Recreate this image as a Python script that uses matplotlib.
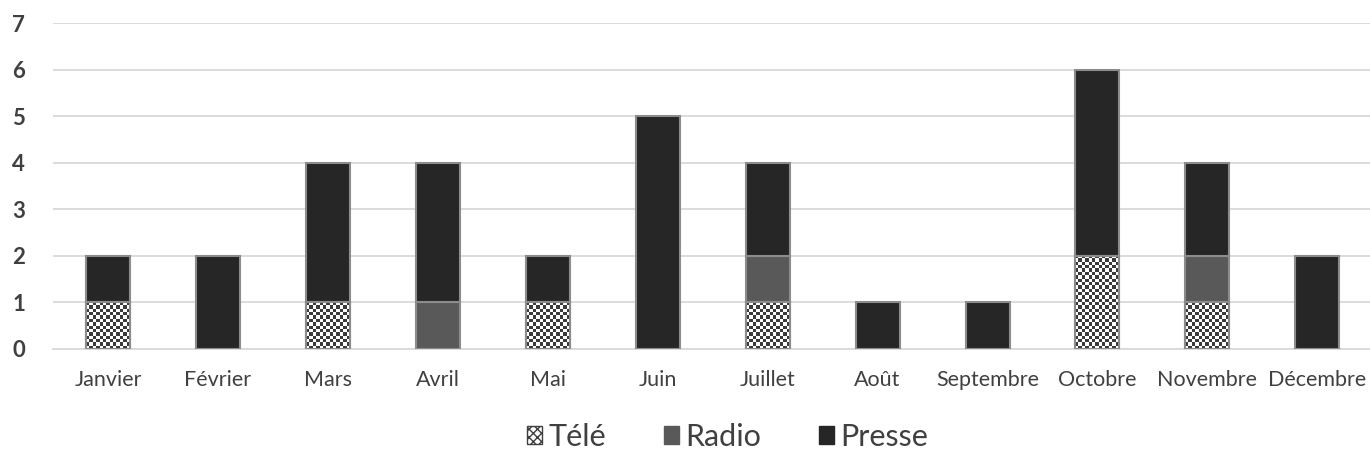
import numpy as np
import matplotlib
matplotlib.use("Agg")
import matplotlib.pyplot as plt
from matplotlib.patches import Patch
from matplotlib.colors import ListedColormap

months = ["Janvier", "Février", "Mars", "Avril", "Mai", "Juin", "Juillet",
          "Août", "Septembre", "Octobre", "Novembre", "Décembre"]
tele = [1, 0, 1, 0, 1, 0, 1, 0, 0, 2, 1, 0]
radio = [0, 0, 0, 1, 0, 0, 1, 0, 0, 0, 1, 0]
presse = [1, 2, 3, 3, 1, 5, 2, 1, 1, 4, 2, 2]
yticks = [0, 1, 2, 3, 4, 5, 6, 7]

plt.rcParams['font.family'] = ['Lato', 'DejaVu Sans']

fig = plt.figure(figsize=(13.7, 4.61), dpi=100)
ax = fig.add_axes([0.0387, 0.243, 0.963, 0.707])

x = np.arange(len(months))
w = 0.4
edge = "#8c8c8c"
lw = 1.5
dark = "#262626"
mid = "#595959"

tele_a = np.array(tele, float)
radio_a = np.array(radio, float)
presse_a = np.array(presse, float)

bt = ax.bar(x, tele_a, w, color="white", edgecolor=edge, linewidth=lw, zorder=3)
ax.bar(x, radio_a, w, bottom=tele_a, color=mid, edgecolor=edge, linewidth=lw, zorder=3)
ax.bar(x, presse_a, w, bottom=tele_a + radio_a, color=dark, edgecolor=edge, linewidth=lw, zorder=3)

# checkerboard fill for Télé bars
cell_x = 13
cmap = ListedColormap(["white", "#3a3a3a"])
for rect, v in zip(bt, tele_a):
    if v <= 0:
        continue
    x0 = rect.get_x()
    ny = int(round(v * 14))
    board = (np.add.outer(np.arange(ny), np.arange(cell_x)) % 2)
    im = ax.imshow(board, cmap=cmap, extent=(x0, x0 + w, 0, v), origin="lower",
                   interpolation="nearest", aspect="auto", zorder=3.5)
    im.set_clip_path(rect)
    ax.add_patch(plt.Rectangle((x0, 0), w, v, fill=False, edgecolor=edge,
                               linewidth=lw, zorder=4))

ax.set_xlim(-0.5, len(months) - 0.5)
ax.set_ylim(0, 7)
ax.set_yticks(yticks)
ax.set_xticks(x)
ax.set_xticklabels(months)
ax.grid(axis="y", color="#d9d9d9", linewidth=1.3, zorder=0)
for s in ["top", "right", "left"]:
    ax.spines[s].set_visible(False)
ax.spines["bottom"].set_color("#d9d9d9")
ax.spines["bottom"].set_linewidth(1.3)
ax.tick_params(axis="both", length=0)
ax.tick_params(axis="y", pad=20, labelsize=16, labelcolor="#404040")
ax.tick_params(axis="x", pad=15, labelsize=15.5, labelcolor="#404040")
for t in ax.get_yticklabels():
    t.set_fontweight("bold")

handles = [
    Patch(facecolor="white", edgecolor="#404040", hatch="xxxx", label="Télé"),
    Patch(facecolor=mid, edgecolor=mid, label="Radio"),
    Patch(facecolor=dark, edgecolor=dark, label="Presse"),
]
leg = fig.legend(handles=handles, loc="center", bbox_to_anchor=(0.531, 0.052),
                 ncol=3, frameon=False, fontsize=22, handlelength=0.5,
                 handleheight=0.5, handletextpad=0.2, columnspacing=1.9)
for t in leg.get_texts():
    t.set_color("#404040")

ax.set_axisbelow(True)
fig.savefig("out.png", dpi=100)
